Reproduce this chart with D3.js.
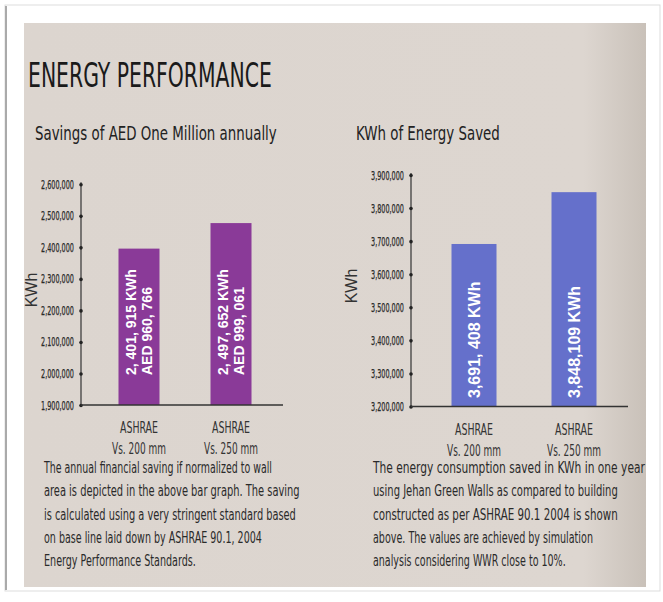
<!DOCTYPE html>
<html>
<head>
<meta charset="utf-8">
<script src="https://cdn.jsdelivr.net/npm/d3@7"></script>
<style>
  body { margin: 0; background: #fff; }
  text { fill: #222; }
  .narrow { font-family: "Liberation Sans Narrow", "DejaVu Sans Condensed", sans-serif; }
  .tick text { font-family: "Liberation Sans Narrow", "DejaVu Sans Condensed", sans-serif; font-size: 12.5px; fill: #2a2a2a; }
  .barlabel { font-family: "Liberation Sans", Arial, sans-serif; font-weight: bold; fill: #fff; }
</style>
</head>
<body>
<div id="chart"></div>
<script>
let categories = [ "ASHRAE|Vs. 200 mm", "ASHRAE|Vs. 250 mm" ];

// left chart: savings (KWh as drawn)
let savingsValues = [ 2396000, 2477000 ];
let savingsTicks = [ 1900000, 2000000, 2100000, 2200000, 2300000, 2400000, 2500000, 2600000 ];
let savingsLabels = [ [ "2, 401, 915 KWh", "AED 960, 766" ], [ "2, 497, 652 KWh", "AED 999, 061" ] ];

// right chart: energy saved
let energyValues = [ 3691408, 3848109 ];
let energyTicks = [ 3200000, 3300000, 3400000, 3500000, 3600000, 3700000, 3800000, 3900000 ];
let energyLabels = [ [ "3,691, 408 KWh" ], [ "3,848,109 KWh" ] ];

let leftText = [
  [ "The annual financial saving if normalized to wall", 228 ],
  [ "area is depicted in the above bar graph. The saving", 256 ],
  [ "is calculated using a very stringent standard based", 252 ],
  [ "on base line laid down by ASHRAE 90.1, 2004", 218 ],
  [ "Energy Performance Standards.", 152 ]
];
let rightText = [
  [ "The energy consumption saved in KWh in one year", 272 ],
  [ "using Jehan Green Walls as compared to building", 245 ],
  [ "constructed as per ASHRAE 90.1  2004 is shown", 245 ],
  [ "above. The values are achieved by simulation", 220 ],
  [ "analysis considering WWR close to 10%.", 193 ]
];

let fmt = d3.format( "," );
let width = 663, height = 602;

let svg = d3.select( "#chart" ).append( "svg" )
  .attr( "width", width )
  .attr( "height", height );

// paper frame
let defs = svg.append( "defs" );
let grad = defs.append( "linearGradient" ).attr( "id", "paper" );
grad.append( "stop" ).attr( "offset", "0%" ).attr( "stop-color", "#dcd5cf" );
grad.append( "stop" ).attr( "offset", "90%" ).attr( "stop-color", "#ddd6d0" );
grad.append( "stop" ).attr( "offset", "100%" ).attr( "stop-color", "#c9c1b9" );

svg.append( "rect" )
  .attr( "x", 5 ).attr( "y", 5 ).attr( "width", 655 ).attr( "height", 586 )
  .attr( "fill", "#fff" ).attr( "stroke", "#ddd" );
svg.append( "line" )
  .attr( "x1", 6 ).attr( "x2", 6 ).attr( "y1", 6 ).attr( "y2", 590 )
  .attr( "stroke", "#aaa" ).attr( "stroke-width", 2 );
svg.append( "rect" )
  .attr( "x", 24 ).attr( "y", 23 ).attr( "width", 622 ).attr( "height", 564 )
  .attr( "fill", "url(#paper)" );

// squeeze a text horizontally to a given width (scale, not textLength)
function squeeze( sel, x0, y0, w ) {
  sel.each( function() {
    let natural = this.getComputedTextLength();
    d3.select( this ).attr( "transform", `translate(${x0},${y0}) scale(${w / natural},1)` );
  });
}

// titles
let t1 = svg.append( "text" ).attr( "class", "narrow" )
  .attr( "font-size", 33 )
  .style( "fill", "#1a1a1a" )
  .text( "ENERGY PERFORMANCE" );
squeeze( t1, 28, 87, 244 );

let t2 = svg.append( "text" ).attr( "class", "narrow" )
  .attr( "font-size", 20 )
  .text( "Savings of AED One Million annually" );
squeeze( t2, 35, 140, 242 );

let t3 = svg.append( "text" ).attr( "class", "narrow" )
  .attr( "font-size", 20 )
  .text( "KWh of Energy Saved" );
squeeze( t3, 356, 140, 144 );

function drawChart( opts ) {
  let g = svg.append( "g" );

  let x = d3.scalePoint()
    .domain( categories )
    .range( opts.xRange )
    .padding( opts.xPad );

  let y = d3.scaleLinear()
    .domain( [ opts.ticks[0], opts.ticks[ opts.ticks.length - 1 ] ] )
    .range( opts.yRange );

  // bars
  g.selectAll( "rect.bar" )
    .data( opts.values )
    .enter()
    .append( "rect" )
    .attr( "class", "bar" )
    .attr( "x", ( d, i ) => x( categories[i] ) - opts.barWidth / 2 )
    .attr( "y", d => y( d ) )
    .attr( "width", opts.barWidth )
    .attr( "height", d => y( opts.ticks[0] ) - y( d ) )
    .attr( "fill", opts.color );

  // y axis
  let yAxis = g.append( "g" )
    .attr( "transform", `translate(${opts.axisX},0)` )
    .call( d3.axisLeft( y ).tickValues( opts.ticks ).tickFormat( fmt ).tickSize( 0 ).tickPadding( 7 ) );
  yAxis.select( ".domain" ).attr( "stroke", "#333" ).attr( "stroke-width", 1.2 )
    .attr( "d", `M0,${y( opts.ticks[0] )}V${y( opts.ticks[ opts.ticks.length - 1 ] ) - 2}` );
  yAxis.selectAll( ".tick text" )
    .attr( "textLength", 33 )
    .attr( "lengthAdjust", "spacingAndGlyphs" )
    .attr( "stroke", "#2a2a2a" )
    .attr( "stroke-width", 0.25 );
  yAxis.selectAll( ".tick" ).append( "circle" ).attr( "r", 1.8 ).attr( "fill", "#222" );

  // x axis line
  g.append( "line" )
    .attr( "x1", opts.axisX ).attr( "x2", opts.axisEnd )
    .attr( "y1", y( opts.ticks[0] ) ).attr( "y2", y( opts.ticks[0] ) )
    .attr( "stroke", "#333" ).attr( "stroke-width", 1.5 );

  // category labels
  let base = y( opts.ticks[0] );
  categories.forEach( c => {
    let parts = c.split( "|" );
    let a = g.append( "text" ).attr( "class", "narrow" )
      .attr( "font-size", 15 )
      .style( "fill", "#333" )
      .text( parts[0] );
    squeeze( a, x( c ) - 19, base + 28, 38 );
    let b = g.append( "text" ).attr( "class", "narrow" )
      .attr( "font-size", 15 )
      .style( "fill", "#333" )
      .text( parts[1] );
    squeeze( b, x( c ) - 27, base + 49, 54 );
  });

  // KWh axis title
  g.append( "text" )
    .attr( "transform", `translate(${opts.titleX},${opts.titleY}) rotate(-90)` )
    .attr( "text-anchor", "middle" )
    .attr( "dominant-baseline", "central" )
    .attr( "font-family", "Liberation Sans, Arial, sans-serif" )
    .attr( "font-size", 16 )
    .style( "fill", "#333" )
    .text( "KWh" );

  // labels inside bars
  opts.labels.forEach( ( lines, i ) => {
    let cx = x( categories[i] );
    lines.forEach( ( line, j ) => {
      let off = ( j - ( lines.length - 1 ) / 2 ) * opts.lineGap;
      g.append( "text" )
        .attr( "class", "barlabel" )
        .attr( "transform", `translate(${cx + off},${opts.labelBottom}) rotate(-90)` )
        .attr( "dominant-baseline", "central" )
        .attr( "font-size", opts.labelSize )
        .text( line );
    });
  });
}

drawChart({
  values: savingsValues, ticks: savingsTicks, labels: savingsLabels,
  xRange: [ 86, 284 ], xPad: 0.576, yRange: [ 405, 184.3 ],
  axisX: 81, axisEnd: 283, barWidth: 41, color: "#8a3a98",
  titleX: 31, titleY: 290, labelBottom: 375, labelSize: 14, lineGap: 16.5
});

drawChart({
  values: energyValues, ticks: energyTicks, labels: energyLabels,
  xRange: [ 418, 630 ], xPad: 0.56, yRange: [ 406.5, 175 ],
  axisX: 411, axisEnd: 628, barWidth: 45, color: "#6570cb",
  titleX: 351, titleY: 286, labelBottom: 398, labelSize: 16, lineGap: 0
});

// paragraphs
function paragraph( lines, x0, y0 ) {
  lines.forEach( ( d, i ) => {
    let t = svg.append( "text" )
      .attr( "class", "narrow" )
      .attr( "font-size", 15 )
      .style( "fill", "#2a2a2a" )
      .text( d[0] );
    squeeze( t, x0, y0 + i * 23.3, d[1] );
  });
}
paragraph( leftText, 44, 473 );
paragraph( rightText, 373, 473 );
</script>
</body>
</html>
